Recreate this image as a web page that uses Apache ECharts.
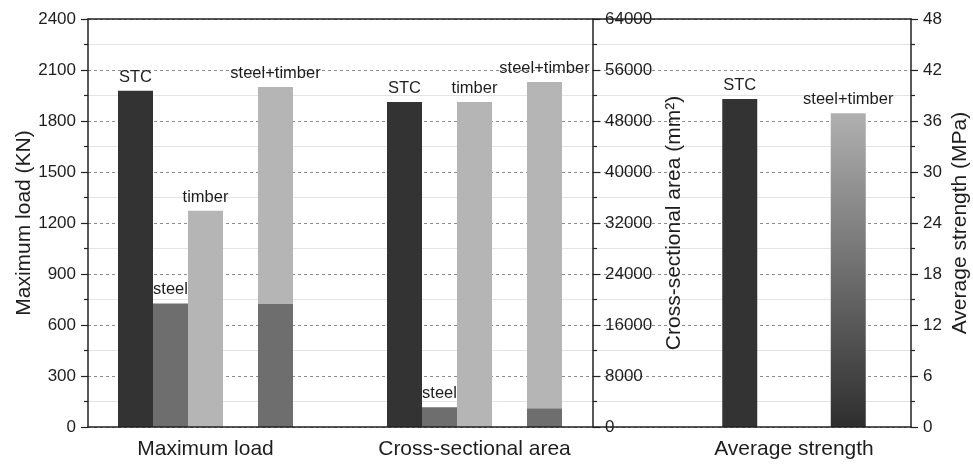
<!DOCTYPE html>
<html>
<head>
<meta charset="utf-8">
<script src="https://cdn.jsdelivr.net/npm/echarts@6/dist/echarts.min.js"></script>
<style>
html,body{margin:0;padding:0;background:#fff;}
#chart{width:973px;height:467px;}
</style>
</head>
<body>
<div id="chart"></div>
<script>
// ---- data ----
const groupNames = ['Maximum load', 'Cross-sectional area', 'Average strength'];
const singleNames = ['STC', 'steel', 'timber'];
const comboName = 'steel+timber';
// Maximum load (KN): STC, steel, timber
const loadSingles = [1978, 727, 1272];
// Maximum load (KN) of steel+timber: steel part, timber part
const loadCombo = [723, 1277];
// Cross-sectional area (mm2): STC, steel, timber
const areaSingles = [51000, 3100, 50980];
// Cross-sectional area (mm2) of steel+timber: steel part, timber part
const areaCombo = [2930, 51190];
// Average strength (MPa): STC, steel+timber
const strengthNames = ['STC', 'steel+timber'];
const strengthValues = [38.6, 36.9];
// axis ticks
const loadAxis = {min: 0, max: 2400, interval: 300};
const areaAxis = {min: 0, max: 64000, interval: 8000};
const strengthAxis = {min: 0, max: 48, interval: 6};

// ---- styles ----
const FONT = 'Liberation Sans, Arial, Helvetica, sans-serif';
const TXT = '#1e1e1e';
const colorMap = {STC: '#333333', steel: '#6e6e6e', timber: '#b5b5b5'};
const BW = 35;

const chart = echarts.init(document.getElementById('chart'), null, {renderer: 'canvas'});

function valueAxis(grid, pos, ax, name, gap) {
  return {
    type: 'value', gridIndex: grid, position: pos,
    min: ax.min, max: ax.max, interval: ax.interval,
    name: name, nameLocation: 'middle', nameGap: gap, nameRotate: 90,
    nameTextStyle: {fontSize: 21, color: TXT, fontFamily: FONT},
    axisLine: {show: true, lineStyle: {color: '#222', width: 1.5}},
    axisTick: {show: true, length: 7, lineStyle: {color: '#222', width: 1.2}},
    minorTick: {show: true, splitNumber: 2, length: 4, lineStyle: {color: '#222', width: 1.2}},
    splitLine: {show: false},
    axisLabel: {fontSize: 17, color: TXT, fontFamily: FONT, margin: 12, formatter: v => String(v)},
    z: 6
  };
}
function catAxis(grid, label) {
  return {
    type: 'category', gridIndex: grid, data: [label],
    axisLine: {show: false}, axisTick: {show: false},
    axisLabel: {fontSize: 21, color: TXT, fontFamily: FONT, margin: 12},
    splitLine: {show: false}
  };
}
const labelStyle = {show: true, position: 'top', distance: 5, fontSize: 16.5, color: TXT, fontFamily: FONT, formatter: '{a}'};

function groupSeries(xi, yi, singles, combo) {
  const s = [];
  singleNames.forEach((n, i) => {
    s.push({type: 'bar', name: n, xAxisIndex: xi, yAxisIndex: yi, data: [singles[i]],
      barWidth: BW, barGap: '0%', itemStyle: {color: colorMap[n]}, label: labelStyle});
  });
  // empty slot between the single bars and the combined bar
  s.push({type: 'bar', name: '', xAxisIndex: xi, yAxisIndex: yi, data: [null], barWidth: BW, barGap: '0%'});
  s.push({type: 'bar', name: 'steel', stack: 'combo' + xi, xAxisIndex: xi, yAxisIndex: yi, data: [combo[0]],
    barWidth: BW, barGap: '0%', itemStyle: {color: colorMap.steel}});
  s.push({type: 'bar', name: comboName, stack: 'combo' + xi, xAxisIndex: xi, yAxisIndex: yi, data: [combo[1]],
    barWidth: BW, barGap: '0%', itemStyle: {color: colorMap.timber}, label: labelStyle});
  return s;
}

const series = [].concat(
  groupSeries(1, 1, loadSingles, loadCombo),
  groupSeries(2, 2, areaSingles, areaCombo),
  strengthNames.map((n, i) => ({
    type: 'bar', name: n, xAxisIndex: 3, yAxisIndex: 3, data: [strengthValues[i]],
    barWidth: BW, barGap: '210%',
    itemStyle: {color: i === 0 ? colorMap.STC : new echarts.graphic.LinearGradient(0, 0, 0, 1, [
      {offset: 0, color: '#b0b0b0'}, {offset: 1, color: '#2e2e2e'}])},
    label: labelStyle
  }))
);

const option = {
  backgroundColor: '#ffffff',
  animation: false,
  grid: [
    {left: 88, right: 62, top: 19, bottom: 40},   // frame + grid lines
    {left: 88, width: 235, top: 19, bottom: 40},  // maximum load
    {left: 356, width: 237, top: 19, bottom: 40}, // cross-sectional area
    {left: 677, width: 234, top: 19, bottom: 40}  // average strength
  ],
  xAxis: [
    {type: 'value', gridIndex: 0, min: 0, max: 1, position: 'bottom', z: 10,
      axisLine: {show: true, onZero: false, lineStyle: {color: '#222', width: 1.5}},
      axisTick: {show: false}, axisLabel: {show: false}, splitLine: {show: false}},
    catAxis(1, groupNames[0]),
    catAxis(2, groupNames[1]),
    catAxis(3, groupNames[2]),
    {type: 'value', gridIndex: 0, min: 0, max: 1, position: 'top', z: 10,
      axisLine: {show: true, onZero: false, lineStyle: {color: '#222', width: 1.5}},
      axisTick: {show: false}, axisLabel: {show: false}, splitLine: {show: false}}
  ],
  yAxis: [
    {type: 'value', gridIndex: 0, min: 0, max: 8, interval: 1,
      axisLine: {show: false}, axisTick: {show: false}, axisLabel: {show: false},
      minorTick: {show: false, splitNumber: 2},
      splitLine: {show: true, lineStyle: {color: '#8c8c8c', width: 1, type: [3, 3]}},
      minorSplitLine: {show: true, lineStyle: {color: '#e4e4e4', width: 1}}},
    valueAxis(1, 'left', loadAxis, 'Maximum load (KN)', 50),
    valueAxis(2, 'right', areaAxis, 'Cross-sectional area (mm²)', 71),
    valueAxis(3, 'right', strengthAxis, 'Average strength (MPa)', 39)
  ],
  series: series
};
chart.setOption(option);
</script>
</body>
</html>
